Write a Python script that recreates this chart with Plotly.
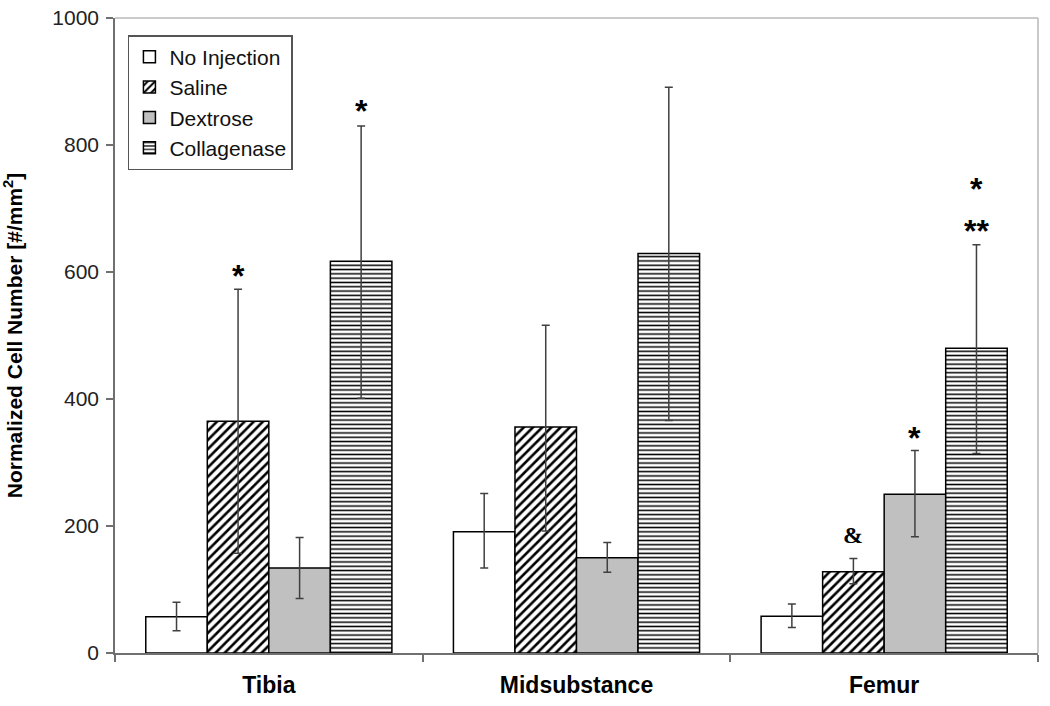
import plotly.graph_objects as go

categories = ["Tibia", "Midsubstance", "Femur"]
series_names = ["No Injection", "Saline", "Dextrose", "Collagenase"]

no_injection = [57, 191, 58]
saline = [365, 356, 128]
dextrose = [134, 150, 250]
collagenase = [617, 629, 480]

no_injection_err_up = [23, 60, 19]
no_injection_err_down = [22, 57, 18]
saline_err_up = [208, 160, 21]
saline_err_down = [208, 164, 19]
dextrose_err_up = [48, 24, 69]
dextrose_err_down = [48, 23, 67]
collagenase_err_up = [213, 262, 163]
collagenase_err_down = [216, 263, 166]

# significance markers: (text, category index, series index, y value)
annot_text = ["*", "*", "&", "*", "**", "*"]
annot_cat = [0, 0, 2, 2, 2, 2]
annot_series = [1, 3, 1, 2, 3, 3]
annot_y = [604, 864, 186, 349, 675, 742]

y_ticks = [0, 200, 400, 600, 800, 1000]

values = [no_injection, saline, dextrose, collagenase]
err_up = [no_injection_err_up, saline_err_up, dextrose_err_up, collagenase_err_up]
err_down = [no_injection_err_down, saline_err_down, dextrose_err_down, collagenase_err_down]

patterns = [
    dict(shape=""),
    dict(shape="/", size=6.5, solidity=0.4, fgcolor="black", bgcolor="white", fillmode="replace"),
    dict(shape=""),
    dict(shape="-", size=4.3, solidity=0.35, fgcolor="black", bgcolor="white", fillmode="replace"),
]
fills = ["white", "white", "#c0c0c0", "white"]

fig = go.Figure()
for i, name in enumerate(series_names):
    fig.add_trace(go.Bar(
        name=name,
        x=categories,
        y=values[i],
        marker=dict(color=fills[i], pattern=patterns[i],
                    line=dict(color="black", width=1.5)),
        error_y=dict(type="data", symmetric=False, array=err_up[i],
                     arrayminus=err_down[i], color="#404040",
                     thickness=1.5, width=4),
    ))

bargap = 0.2
bar_w = (1 - bargap) / len(series_names)
for t, c, s, yv in zip(annot_text, annot_cat, annot_series, annot_y):
    xpos = c + (s - (len(series_names) - 1) / 2) * bar_w
    is_amp = t == "&"
    fig.add_annotation(
        x=xpos, y=yv, xref="x", yref="y", text=t, showarrow=False,
        yanchor="middle", yshift=0 if is_amp else -7,
        font=dict(family="Liberation Serif" if is_amp else "Liberation Sans",
                  size=24 if is_amp else 32, color="black", weight="bold"),
    )

# light top/right frame
fig.add_shape(type="line", xref="paper", yref="paper", x0=0, x1=1, y0=1, y1=1,
              line=dict(color="#b8b8b8", width=1.5))
fig.add_shape(type="line", xref="paper", yref="paper", x0=1, x1=1, y0=0, y1=1,
              line=dict(color="#b8b8b8", width=1.5))

fig.update_layout(
    width=1050, height=706,
    margin=dict(l=115, r=12, t=18, b=53, autoexpand=False),
    plot_bgcolor="white", paper_bgcolor="white",
    barmode="group", bargap=bargap, bargroupgap=0,
    font=dict(family="Liberation Sans, Arial, sans-serif", color="black"),
    legend=dict(
        x=0.014, y=0.973, xanchor="left", yanchor="top",
        bgcolor="white", bordercolor="#555555", borderwidth=1.5,
        font=dict(size=21, color="#111111"),
        tracegroupgap=0, itemwidth=30,
    ),
    showlegend=True,
    xaxis=dict(
        type="category", tickson="boundaries", ticks="outside", ticklen=7,
        tickcolor="#707070", tickwidth=1.5, automargin=False,
        showline=True, linecolor="#707070", linewidth=1.5,
        showgrid=False, ticklabelstandoff=11,
        tickfont=dict(family="Liberation Sans", size=23, color="black", weight="bold"),
    ),
    yaxis=dict(
        range=[0, 1000], tickvals=y_ticks, ticks="outside", ticklen=7,
        tickcolor="#707070", tickwidth=1.5, automargin=False,
        showline=True, linecolor="#707070", linewidth=1.5,
        showgrid=False, zeroline=False, ticklabelstandoff=3,
        ticklabeloverflow="allow",
        tickfont=dict(size=21, color="#222222"),
        title=dict(text="Normalized Cell Number [#/mm<sup>2</sup>]", standoff=29,
                   font=dict(family="Liberation Sans", size=21, color="black", weight="bold")),
    ),
)

fig.write_html(
    "out.html",
    config={"displayModeBar": False},
    post_script="document.body.style.margin='0';document.body.style.overflow='hidden';",
)
